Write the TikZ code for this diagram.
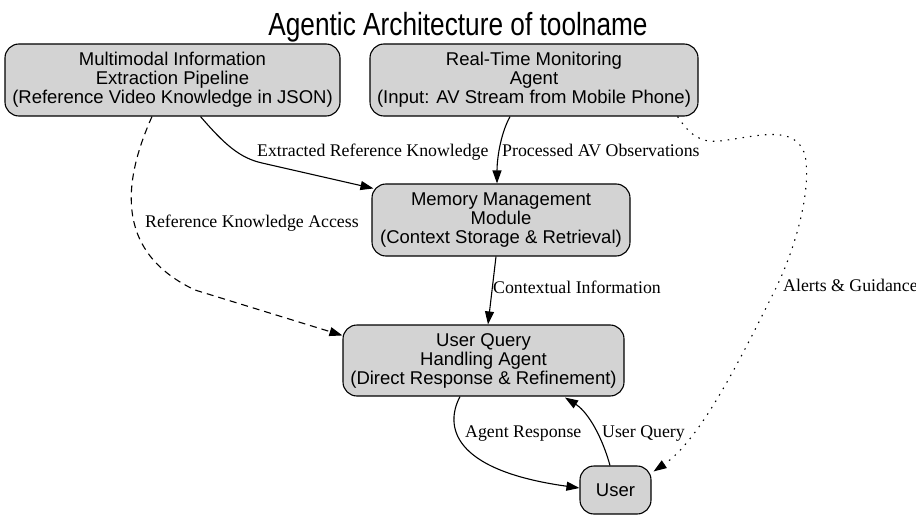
\documentclass[tikz,border=0pt]{standalone}
\usepackage{fontspec}
\setmainfont{Liberation Serif}
\newfontfamily\hv{Liberation Sans}
\usetikzlibrary{arrows.meta,calc}
\definecolor{boxfill}{HTML}{D3D3D3}
\begin{document}
\begin{tikzpicture}[x=1pt,y=-1pt,
  box/.style={draw=black,line width=1.1pt,fill=boxfill,rounded corners=14pt,align=center,inner sep=0pt,
    font=\hv\fontsize{18.5}{19}\selectfont},
  lbl/.style={inner sep=0pt,anchor=base west,font=\fontsize{17.8}{20}\selectfont},
  edge/.style={line width=1.1pt,-{Triangle[length=13pt,width=9pt]}},
  ]
\useasboundingbox (0,0) rectangle (916,519);
\node[anchor=base,inner sep=0pt] (title) at (458,35.7) {\scalebox{0.82}[1]{\hv\fontsize{32}{36}\selectfont Agentic Architecture of toolname}};

\node[box,minimum width=335pt,minimum height=72pt] (A) at (172.5,80) {Multimodal Information\\Extraction Pipeline\\(Reference Video Knowledge in JSON)};
\node[box,minimum width=328pt,minimum height=72pt] (B) at (534,80) {Real-Time Monitoring\\Agent\\(Input: AV Stream from Mobile Phone)};
\node[box,minimum width=258pt,minimum height=72pt] (C) at (501,220) {Memory Management\\Module\\(Context Storage \& Retrieval)};
\node[box,minimum width=281pt,minimum height=71pt] (D) at (483.5,360.5) {User Query\\Handling Agent\\(Direct Response \& Refinement)};
\node[box,minimum width=71pt,minimum height=48pt] (E) at (615.5,490) {User};

% A -> C
\draw[edge] ($(A.south)+(28,0)$) .. controls (225,145) and (240,158) .. (262,163) -- ($(C.north west)+(2,5)$);
\node[lbl] (l1) at (257,156) {Extracted Reference Knowledge};
% B -> C
\draw[edge] ($(B.south)+(-24,0)$) .. controls (500,135) and (497,160) .. ($(C.north)+(-4,0)$);
\node[lbl] (l2) at (502,156) {Processed AV Observations};
% A -> D dashed
\draw[edge,dash pattern=on 7pt off 5pt] ($(A.south)+(-20.5,0)$) .. controls (126,175) and (110,250) .. (195,290) -- ($(D.north west)+(0,11)$);
\node[lbl] (l3) at (145,227) {Reference Knowledge Access};
% C -> D
\draw[edge] ($(C.south)+(-5,0)$) -- ($(D.north)+(4.5,0)$);
\node[lbl] (l4) at (493,293) {Contextual Information};
% B -> E dotted
\draw[edge,dash pattern=on 1.5pt off 6pt] ($(B.south east)+(-21,0)$) .. controls (690,135) and (700,143) .. (720,141)
  .. controls (760,136) and (795,124) .. (805,155) .. controls (812,190) and (795,250) .. (775,290)
  .. controls (740,360) and (700,440) .. ($(E.north east)+(2,6)$);
\node[lbl] (l5) at (783,291) {Alerts \& Guidance};
% D -> E
\draw[edge] ($(D.south)+(-23.5,0)$) .. controls (445,425) and (450,470) .. ($(E.west)+(0,-2)$);
\node[lbl] (l6) at (465,437) {Agent Response};
% E -> D
\draw[edge] ($(E.north)+(-5.5,0)$) .. controls (600,430) and (585,410) .. ($(D.south)+(81.5,1)$);
\node[lbl] (l7) at (602,437) {User Query};
\end{tikzpicture}
\end{document}
